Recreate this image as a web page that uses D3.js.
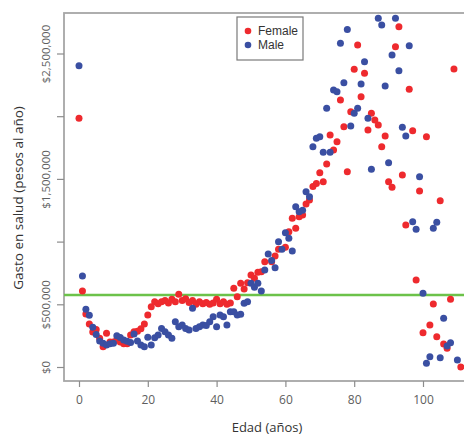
<!DOCTYPE html>
<html>
<head>
<meta charset="utf-8">
<script src="https://cdn.jsdelivr.net/npm/d3@7"></script>
<style>
  body { margin: 0; background: #fff; }
  svg { display: block; overflow: hidden; }
</style>
</head>
<body>
<div id="chart"></div>
<script>
// Gasto en salud por edad y sexo: [edad, pesos al año]
const female = [
  [0, 1983000], [1, 606000], [2, 423000], [3, 343000], [4, 280000], [5, 300000],
  [6, 230000], [7, 162000], [8, 270000], [9, 200000], [10, 200000], [11, 220000],
  [12, 200000], [13, 185000], [14, 185000], [15, 255000], [16, 282000], [17, 285000],
  [18, 305000], [19, 343000], [20, 415000], [21, 481000], [22, 521000], [23, 505000],
  [24, 520000], [25, 530000], [26, 510000], [27, 540000], [28, 520000], [29, 580000],
  [30, 530000], [31, 545000], [32, 515000], [33, 530000], [34, 500000], [35, 520000],
  [36, 505000], [37, 515000], [38, 500000], [39, 510000], [40, 540000], [41, 505000],
  [42, 520000], [43, 500000], [44, 510000], [45, 628000], [46, 560000], [47, 667000],
  [48, 622000], [49, 672000], [50, 734000], [51, 707000], [52, 755000], [53, 760000],
  [54, 840000], [56, 840000], [57, 885000], [58, 939000], [60, 955000], [61, 1079000],
  [62, 1186000], [63, 1106000], [64, 1199000], [65, 1212000], [66, 1300000], [67, 1332000],
  [68, 1440000], [69, 1464000], [70, 1549000], [71, 1478000], [72, 1619000], [73, 1850000],
  [74, 1730000], [75, 1797000], [76, 2129000], [77, 1916000], [78, 1557000], [79, 2036000],
  [80, 2374000], [81, 2568000], [82, 2155000], [83, 2342000], [84, 1890000], [85, 2023000],
  [86, 1970000], [87, 1930000], [88, 1757000], [89, 1842000], [90, 1478000], [91, 1433000],
  [92, 2554000], [93, 2714000], [94, 1531000], [95, 1132000], [96, 2214000], [97, 1884000],
  [98, 694000], [99, 1403000], [100, 274000], [101, 1836000], [102, 335000], [103, 502000],
  [104, 242000], [105, 1326000], [106, 183000], [107, 149000], [108, 540000], [109, 2376000],
  [111, 0]
];

const male = [
  [0, 2402000], [1, 725000], [2, 460000], [3, 412000], [4, 316000], [5, 260000],
  [6, 207000], [7, 190000], [8, 175000], [9, 185000], [10, 190000], [11, 250000],
  [12, 235000], [13, 215000], [14, 205000], [15, 195000], [16, 263000], [17, 207000],
  [18, 175000], [19, 162000], [20, 237000], [21, 175000], [22, 234000], [23, 255000],
  [24, 308000], [25, 282000], [26, 255000], [27, 229000], [28, 361000], [29, 320000],
  [30, 335000], [31, 308000], [32, 295000], [33, 468000], [34, 308000], [35, 321000],
  [36, 335000], [37, 330000], [38, 361000], [39, 401000], [40, 321000], [41, 415000],
  [42, 401000], [43, 335000], [44, 441000], [45, 441000], [46, 415000], [47, 420000],
  [48, 508000], [49, 521000], [50, 667000], [51, 636000], [52, 667000], [53, 606000],
  [54, 773000], [55, 901000], [56, 850000], [57, 792000], [58, 999000], [59, 939000],
  [60, 1071000], [61, 1026000], [62, 925000], [63, 1278000], [64, 1238000], [65, 1250000],
  [66, 1398000], [67, 1358000], [68, 1757000], [69, 1824000], [70, 1836000], [71, 1712000],
  [72, 2063000], [73, 1712000], [74, 2209000], [75, 2195000], [76, 2581000], [77, 2267000],
  [78, 2692000], [79, 1922000], [80, 2023000], [81, 2063000], [82, 2257000], [83, 2434000],
  [84, 1983000], [85, 1576000], [87, 2781000], [88, 2727000], [89, 2241000], [90, 1629000],
  [91, 2488000], [92, 2781000], [93, 2363000], [94, 1911000], [95, 1842000], [96, 2562000],
  [97, 1159000], [98, 1098000], [99, 1518000], [100, 588000], [101, 30000], [102, 82000],
  [103, 1106000], [104, 1154000], [105, 74000], [106, 388000], [107, 167000], [108, 194000],
  [110, 56000]
];

const meanLine = 575000;
const xTicks = [0, 20, 40, 60, 80, 100];
const yTicks = [0, 500000, 1000000, 1500000, 2000000, 2500000];
const yTickLabels = ["$0", "$500,000", "", "$1,500,000", "", "$2,500,000"];
const seriesNames = ["Female", "Male"];
const seriesColors = ["#ee2a2e", "#3a4fa2"];

const W = 464, H = 437;
const box = { left: 64, top: 13, right: 470, bottom: 381 };

const svg = d3.select("#chart").append("svg")
    .attr("width", W)
    .attr("height", H);

// escalas
const x = d3.scaleLinear().domain([0, 100]).range([79, 423]);
const y = d3.scaleLinear().domain([0, 2500000]).range([367, 53.5]);

// marco del gráfico
svg.append("rect")
    .attr("x", box.left)
    .attr("y", box.top)
    .attr("width", box.right - box.left)
    .attr("height", box.bottom - box.top)
    .attr("fill", "none")
    .attr("stroke", "#a6a6a6")
    .attr("stroke-width", 1.8);

// eje Y
const yAxis = svg.append("g")
    .attr("transform", `translate(${box.left},0)`)
    .call(d3.axisLeft(y)
        .tickValues(yTicks)
        .tickSize(7)
        .tickFormat((d, i) => yTickLabels[i]));
yAxis.select(".domain").remove();
yAxis.selectAll(".tick line").attr("stroke", "#8c8c8c").attr("stroke-width", 1.2);
yAxis.selectAll(".tick text")
    .attr("transform", "rotate(-90)")
    .attr("x", 0)
    .attr("y", -14)
    .attr("dy", 0)
    .attr("text-anchor", "middle")
    .style("font-family", "Open Sans")
    .style("font-size", "11.5px")
    .style("fill", "#5e5e5e");

// eje X
const xAxis = svg.append("g")
    .attr("transform", `translate(0,${box.bottom})`)
    .call(d3.axisBottom(x).tickValues(xTicks).tickSize(6));
xAxis.select(".domain").remove();
xAxis.selectAll(".tick line").attr("stroke", "#8c8c8c").attr("stroke-width", 1.2);
xAxis.selectAll(".tick text")
    .attr("y", 14)
    .style("font-family", "Open Sans")
    .style("font-size", "12px")
    .style("fill", "#5e5e5e");

// títulos de ejes
svg.append("text")
    .attr("x", 267)
    .attr("y", 432)
    .attr("text-anchor", "middle")
    .style("font-family", "Open Sans")
    .style("font-size", "13px")
    .style("fill", "#333")
    .text("Edad (años)");

svg.append("text")
    .attr("transform", "translate(23,198) rotate(-90)")
    .attr("text-anchor", "middle")
    .style("font-family", "Open Sans")
    .style("font-size", "13.5px")
    .style("fill", "#333")
    .text("Gasto en salud (pesos al año)");

// línea promedio
svg.append("line")
    .attr("x1", box.left)
    .attr("x2", box.right)
    .attr("y1", y(meanLine))
    .attr("y2", y(meanLine))
    .attr("stroke", "#6cc24a")
    .attr("stroke-width", 2.5);

// puntos
[female, male].forEach((series, i) => {
    svg.append("g").selectAll("circle")
        .data(series)
        .enter()
        .append("circle")
        .attr("cx", d => x(d[0]))
        .attr("cy", d => y(d[1]))
        .attr("r", 3.5)
        .attr("fill", seriesColors[i]);
});

// leyenda
const legend = svg.append("g").attr("transform", "translate(237,17)");
legend.append("rect")
    .attr("width", 66)
    .attr("height", 43)
    .attr("fill", "#fff")
    .attr("stroke", "#7a7a7a")
    .attr("stroke-width", 1.2);
seriesNames.forEach((name, i) => {
    legend.append("circle")
        .attr("cx", 11)
        .attr("cy", 14 + i * 14)
        .attr("r", 3.3)
        .attr("fill", seriesColors[i]);
    legend.append("text")
        .attr("x", 21)
        .attr("y", 14 + i * 14)
        .attr("dy", "0.35em")
        .style("font-family", "Liberation Sans, Arial, sans-serif")
        .style("font-size", "12px")
        .style("fill", "#333")
        .text(name);
});
</script>
</body>
</html>
